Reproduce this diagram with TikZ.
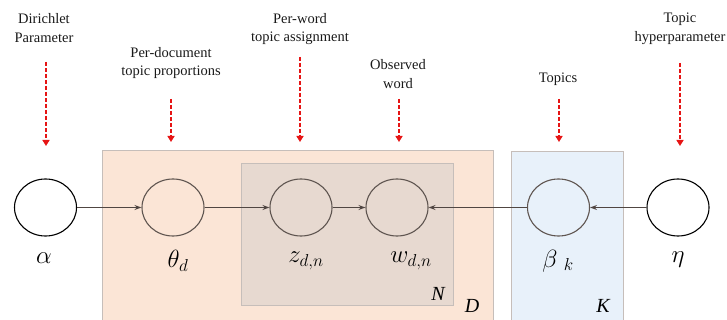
\documentclass[tikz,border=0pt]{standalone}
\usepackage{fontspec}
\setmainfont{Liberation Serif}
\usetikzlibrary{shapes.geometric,arrows.meta}
\definecolor{docfill}{RGB}{251,229,214}
\definecolor{wordfill}{RGB}{231,217,208}
\definecolor{topicfill}{RGB}{232,241,250}
\definecolor{plateedge}{RGB}{198,190,186}
\definecolor{nodeedge}{RGB}{95,85,80}
\definecolor{arrowgrey}{RGB}{80,70,66}
\definecolor{callred}{RGB}{230,20,20}
\tikzset{
  var/.style={ellipse, draw=nodeedge, line width=1.1pt, minimum width=62pt, minimum height=57pt, inner sep=0pt},
  hyper/.style={var, draw=black, fill=white},
  lbl/.style={font=\fontsize{25}{27}\selectfont, inner sep=0pt},
  plabel/.style={font=\fontsize{20}{22}\selectfont\itshape, inner sep=0pt},
  note/.style={align=center, font=\fontsize{14.5}{18.5}\selectfont, text=black!90, inner sep=0pt},
  edge/.style={draw=arrowgrey, line width=1pt, -{Stealth[length=7pt,width=5pt]}},
  callout/.style={draw=callred, line width=1.6pt, dash pattern=on 4pt off 2pt, -{Triangle[length=6pt,width=7pt]}},
}
\begin{document}
\begin{tikzpicture}[x=1pt,y=-1pt]
\useasboundingbox (0,0) rectangle (727,320);
% plates
\draw[fill=docfill, draw=plateedge, line width=0.9pt] (102,150) rectangle (493,321);
\draw[fill=wordfill, draw=plateedge, line width=0.9pt] (241,163) rectangle (453,305);
\draw[fill=topicfill, draw=plateedge, line width=0.9pt] (511,151) rectangle (623,321);
% nodes
\node[hyper] (alpha) at (45.5,207.5) {};
\node[var] (theta) at (173,207.5) {};
\node[var] (z) at (301,207.5) {};
\node[var] (w) at (397,207.5) {};
\node[var] (beta) at (558.5,207.5) {};
\node[hyper] (eta) at (678,207.5) {};
% math labels
\node[lbl] (alphal) at (44,258) {$\alpha$};
\node[lbl] (thetal) at (178,261) {$\theta_d$};
\node[lbl] (zl) at (306,261) {$z_{d,n}$};
\node[lbl] (wl) at (411,261) {$w_{d,n}$};
\node[lbl] (betal) at (558,261) {$\beta\ _k$};
\node[lbl] (etal) at (678,260) {$\eta$};
\node[plabel] (Nl) at (438,294) {N};
\node[plabel] (Dl) at (472,306) {D};
\node[plabel] (Kl) at (603,306) {K};
% edges
\draw[edge] (alpha) -- (theta);
\draw[edge] (theta) -- (z);
\draw[edge] (z) -- (w);
\draw[edge] (beta) -- (w);
\draw[edge] (eta) -- (beta);
% annotations
\node[note] (n1) at (44,28) {Dirichlet\\Parameter};
\node[note] (n2) at (171,63) {Per-document\\topic proportions};
\node[note] (n3) at (300,29) {Per-word\\topic assignment};
\node[note] (n4) at (398,74) {Observed\\word};
\node[note] (n5) at (558,79) {Topics};
\node[note] (n6) at (680,29) {Topic\\hyperparameter};
\coordinate (t1) at (46,146);
\coordinate (t2) at (171,142);
\coordinate (t3) at (300,142);
\coordinate (t4) at (399,142);
\coordinate (t5) at (559,142);
\coordinate (t6) at (680,146);
\draw[callout] (46,62) -- (t1);
\draw[callout] (171,99) -- (t2);
\draw[callout] (300,57) -- (t3);
\draw[callout] (399,99) -- (t4);
\draw[callout] (559,99) -- (t5);
\draw[callout] (680,63) -- (t6);
\end{tikzpicture}
\end{document}
